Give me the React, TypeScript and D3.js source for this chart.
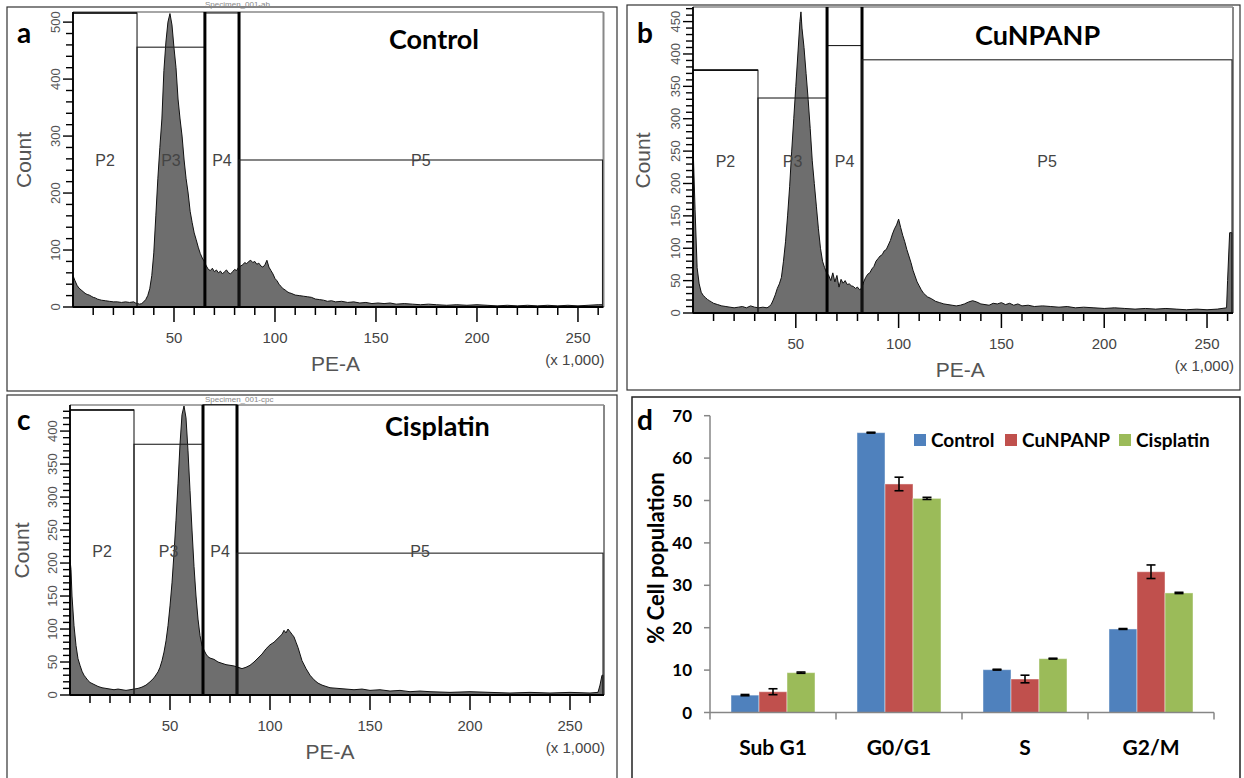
import React from 'react';
import * as d3 from 'd3';

// ---------- DATA ----------
// Flow-cytometry histograms: [PE-A (x 1,000), Count]
const controlHistogram: [number, number][] = [
  [0, 55], [1, 46], [2, 38], [3, 33], [4, 30], [5, 27], [6, 24], [7, 22], [8, 21], [9, 19], [10, 17], [11, 16], [12, 14], [13, 13], [14, 12], [16, 11], [18, 10], [20, 9], [22, 9], [24, 8], [26, 9], [28, 8], [30, 9], [31, 7], [32, 6], [33, 5], [34, 6], [35, 9], [36, 13], [37, 20], [38, 32], [39, 55], [40, 95], [41, 160], [42, 225], [43, 280], [44, 330], [45, 415], [46, 465], [47, 500], [48, 515], [49, 495], [50, 455], [51, 420], [52, 365], [53, 330], [54, 300], [55, 258], [56, 225], [57, 200], [58, 168], [59, 148], [60, 130], [61, 118], [62, 105], [63, 94], [64, 86], [65, 80], [66, 72], [67, 66], [68, 64], [69, 68], [70, 62], [71, 65], [72, 60], [73, 63], [74, 58], [75, 62], [76, 65], [77, 60], [78, 58], [79, 62], [80, 66], [81, 64], [82, 70], [83, 72], [84, 74], [85, 78], [86, 76], [87, 80], [88, 82], [89, 78], [90, 80], [91, 75], [92, 77], [93, 72], [94, 70], [95, 74], [96, 82], [97, 70], [98, 64], [99, 58], [100, 50], [101, 46], [102, 40], [103, 36], [104, 32], [105, 30], [106, 27], [107, 25], [108, 24], [110, 21], [112, 20], [114, 19], [116, 18], [118, 17], [120, 14], [122, 13], [124, 12], [126, 10], [128, 11], [130, 9], [133, 10], [136, 8], [139, 9], [142, 7], [145, 8], [148, 6], [151, 7], [154, 6], [157, 7], [160, 5], [164, 6], [168, 5], [172, 4], [176, 5], [180, 4], [185, 3], [190, 4], [195, 3], [200, 4], [205, 3], [210, 2], [215, 3], [220, 2], [225, 3], [230, 2], [235, 3], [240, 2], [245, 3], [250, 2], [255, 3], [260, 4], [262.1, 4],
];

const cunpanpHistogram: [number, number][] = [
  [0, 262], [1, 160], [2, 70], [3, 45], [4, 32], [5, 27], [6, 24], [7, 21], [8, 19], [9, 17], [10, 15], [12, 13], [14, 11], [16, 10], [18, 9], [20, 8], [22, 9], [24, 10], [26, 8], [28, 11], [30, 9], [32, 8], [34, 9], [36, 8], [37, 10], [38, 13], [39, 20], [40, 28], [41, 38], [42, 45], [43, 55], [44, 80], [45, 110], [46, 150], [47, 195], [48, 250], [49, 300], [50, 350], [51, 400], [52, 450], [52.5, 465], [53, 440], [54, 410], [55, 370], [56, 330], [57, 285], [58, 235], [59, 200], [60, 165], [61, 130], [62, 100], [63, 80], [64, 70], [65, 62], [66, 58], [67, 50], [68, 62], [69, 48], [70, 58], [71, 40], [72, 52], [73, 46], [74, 50], [75, 44], [76, 45], [77, 42], [78, 41], [79, 38], [80, 40], [81, 36], [82, 38], [83, 48], [84, 55], [85, 60], [86, 62], [87, 68], [88, 72], [89, 80], [90, 84], [91, 88], [92, 90], [93, 96], [94, 98], [95, 105], [96, 112], [97, 122], [98, 130], [99, 136], [100, 145], [101, 132], [102, 120], [103, 110], [104, 98], [105, 88], [106, 78], [107, 66], [108, 57], [109, 48], [110, 42], [111, 36], [112, 31], [113, 28], [114, 25], [116, 22], [118, 18], [120, 16], [122, 14], [124, 13], [126, 12], [128, 11], [130, 12], [132, 14], [134, 17], [136, 19], [138, 17], [140, 14], [142, 13], [144, 12], [146, 15], [148, 14], [150, 16], [152, 13], [154, 15], [156, 12], [158, 14], [160, 11], [163, 12], [166, 10], [170, 11], [174, 10], [178, 9], [182, 10], [186, 8], [190, 9], [195, 8], [200, 7], [205, 8], [210, 7], [215, 6], [220, 7], [225, 6], [230, 7], [235, 6], [240, 5], [245, 6], [250, 5], [255, 6], [259.5, 8], [260, 50], [261, 124], [262.1, 124],
];

const cisplatinHistogram: [number, number][] = [
  [0, 205], [0.5, 190], [1, 150], [2, 105], [3, 75], [4, 55], [5, 45], [6, 36], [7, 30], [8, 26], [9, 22], [10, 19], [12, 16], [14, 13], [16, 11], [18, 10], [20, 9], [22, 8], [24, 9], [26, 8], [28, 7], [30, 8], [32, 9], [34, 10], [36, 12], [38, 15], [40, 20], [42, 26], [44, 35], [45, 42], [46, 52], [47, 65], [48, 82], [49, 105], [50, 135], [51, 170], [52, 215], [53, 265], [54, 320], [55, 380], [56, 425], [57, 440], [58, 420], [59, 370], [60, 310], [61, 250], [62, 195], [63, 150], [64, 115], [65, 90], [66, 75], [67, 68], [68, 62], [69, 58], [70, 56], [72, 54], [74, 50], [76, 48], [78, 46], [80, 45], [82, 44], [84, 42], [86, 40], [88, 42], [90, 45], [92, 50], [94, 56], [96, 62], [98, 70], [100, 76], [102, 80], [104, 86], [106, 92], [107, 98], [108, 94], [109, 100], [110, 96], [111, 92], [112, 88], [113, 80], [114, 72], [115, 62], [116, 52], [118, 40], [120, 30], [122, 23], [124, 18], [126, 15], [128, 13], [130, 11], [134, 10], [138, 9], [142, 8], [146, 9], [150, 7], [155, 8], [160, 6], [165, 7], [170, 5], [175, 6], [180, 5], [190, 4], [200, 5], [210, 4], [220, 3], [230, 4], [240, 3], [250, 4], [260, 3], [264, 4], [265, 15], [266, 30], [266.5, 30],
];

// Gates: name, from / to (PE-A x 1,000), top (Count)
const controlGates = [
  { name: 'P2', from: 0, to: 31.7, top: 516 },
  { name: 'P3', from: 31.7, to: 65.3, top: 456 },
  { name: 'P4', from: 65.3, to: 82.2, top: 516 },
  { name: 'P5', from: 82.2, to: 262.144, top: 258 },
];
const cunpanpGates = [
  { name: 'P2', from: 0, to: 31.6, top: 375 },
  { name: 'P3', from: 31.6, to: 65.2, top: 332 },
  { name: 'P4', from: 65.2, to: 82.2, top: 413 },
  { name: 'P5', from: 82.2, to: 262.144, top: 391 },
];
const cisplatinGates = [
  { name: 'P2', from: 0, to: 32, top: 432 },
  { name: 'P3', from: 32, to: 66.5, top: 380 },
  { name: 'P4', from: 66.5, to: 83.5, top: 440 },
  { name: 'P5', from: 83.5, to: 266.5, top: 215 },
];

const peaXTicks = [50, 100, 150, 200, 250];

// Bar chart
const phases = ['Sub G1', 'G0/G1', 'S', 'G2/M'];
const treatments = ['Control', 'CuNPANP', 'Cisplatin'];
const controlPct = [4.1, 66.0, 10.1, 19.7];
const controlErr = [0.15, 0.1, 0.1, 0.1];
const cunpanpPct = [4.9, 53.9, 7.9, 33.2];
const cunpanpErr = [0.7, 1.6, 0.9, 1.6];
const cisplatinPct = [9.4, 50.5, 12.7, 28.2];
const cisplatinErr = [0.15, 0.25, 0.1, 0.15];
const pctTicks = [0, 10, 20, 30, 40, 50, 60, 70];

const seriesColors = ['#4F81BD', '#C0504D', '#9BBB59'];
const CAL = 'Lato, "Open Sans", sans-serif';
const ARIAL = '"Liberation Sans", Arial, sans-serif';

type Gate = { name: string; from: number; to: number; top: number };
type HistCfg = {
  box: [number, number, number, number];
  left: number; right: number; top: number; bottom: number; xMax: number;
  yMax: number; yMajor: number; yMinor: number;
  title: string; titleX: number; titleY: number;
  letter: string; letterX: number; letterY: number;
  countX: number; specimen: string; specimenY: number;
};

function HistPanel({ data, gates, cfg }: { data: [number, number][]; gates: Gate[]; cfg: HistCfg }) {
  const x = d3.scaleLinear().domain([0, cfg.xMax]).range([cfg.left, cfg.right]);
  const y = d3.scaleLinear().domain([0, cfg.yMax]).range([cfg.bottom, cfg.top]);
  const area = d3.area<[number, number]>()
    .x(d => x(Math.min(d[0], cfg.xMax)))
    .y0(y(0))
    .y1(d => y(Math.min(d[1], cfg.yMax)));
  const path = area([[0, 0], ...data, [cfg.xMax, 0]] as [number, number][]) || '';
  const minorX = d3.range(10, cfg.xMax, 10);
  const minorY = d3.range(0, cfg.yMax, cfg.yMinor);
  const majorY = d3.range(0, cfg.yMax, cfg.yMajor);
  const [bx0, by0, bx1, by1] = cfg.box;
  const midY = (cfg.top + cfg.bottom) / 2;
  const gx = (v: number) => x(Math.min(v, cfg.xMax));
  return (
    <g>
      <rect x={bx0} y={by0} width={bx1 - bx0} height={by1 - by0} fill="#fff" stroke="#333" strokeWidth={1.2} />
      {cfg.specimen && (
        <text x={205} y={cfg.specimenY} fontFamily={ARIAL} fontSize={8} fill="#888">{cfg.specimen}</text>
      )}
      {/* plot frame top/right */}
      <line x1={cfg.left} x2={cfg.right + 1} y1={cfg.top - 1} y2={cfg.top - 1} stroke="#888" strokeWidth={1.6} />
      <line x1={cfg.right + 1} x2={cfg.right + 1} y1={cfg.top - 1} y2={cfg.bottom} stroke="#888" strokeWidth={2} />
      {/* histogram */}
      <path d={path} fill="#6e6e6e" stroke="#111" strokeWidth={1} strokeLinejoin="round" />
      {/* gates */}
      {gates.map(g => (
        <g key={g.name}>
          <rect x={gx(g.from)} y={y(g.top)} width={gx(g.to) - gx(g.from)} height={y(0) - y(g.top)} fill="none" stroke="#222" strokeWidth={1.1} />
          {g.name === 'P2' && <line x1={gx(g.from)} x2={gx(g.to)} y1={y(g.top)} y2={y(g.top)} stroke="#111" strokeWidth={1.6} />}
          {g.name === 'P4' && (
            <>
              <line x1={gx(g.from)} x2={gx(g.from)} y1={cfg.top - 1} y2={y(0)} stroke="#000" strokeWidth={3} />
              <line x1={gx(g.to)} x2={gx(g.to)} y1={cfg.top - 1} y2={y(0)} stroke="#000" strokeWidth={3} />
            </>
          )}
          <text x={(gx(g.from) + gx(g.to)) / 2} y={midY + 6} textAnchor="middle" fontFamily={ARIAL} fontSize={16} fill="#444">{g.name}</text>
        </g>
      ))}
      {/* axes */}
      <line x1={cfg.left} x2={cfg.right + 1} y1={cfg.bottom} y2={cfg.bottom} stroke="#000" strokeWidth={1.8} />
      <line x1={cfg.left} x2={cfg.left} y1={cfg.top - 1} y2={cfg.bottom} stroke="#000" strokeWidth={1.8} />
      {minorX.map(v => (
        <line key={'mx' + v} x1={x(v)} x2={x(v)} y1={cfg.bottom} y2={cfg.bottom + (v % 50 === 0 ? 15 : 8)} stroke="#000" strokeWidth={1.5} />
      ))}
      {peaXTicks.map(v => (
        <text key={'tx' + v} x={x(v)} y={cfg.bottom + 36} textAnchor="middle" fontFamily={ARIAL} fontSize={15} fill="#444">{v}</text>
      ))}
      {minorY.map(v => (
        <line key={'my' + v} x1={cfg.left - (v % cfg.yMajor === 0 ? 10 : 7)} x2={cfg.left} y1={y(v)} y2={y(v)} stroke="#000" strokeWidth={1.4} />
      ))}
      {majorY.map(v => (
        <text key={'ty' + v} transform={`translate(${cfg.left - 13},${y(v)}) rotate(-90)`} textAnchor="middle" fontFamily={ARIAL} fontSize={13} fill="#555">{v}</text>
      ))}
      <text transform={`translate(${cfg.countX},${midY}) rotate(-90)`} textAnchor="middle" fontFamily={ARIAL} fontSize={21} fill="#555">Count</text>
      <text x={x(130)} y={cfg.bottom + 64} textAnchor="middle" fontFamily={ARIAL} fontSize={21} fill="#555">PE-A</text>
      <text x={cfg.right + 2} y={cfg.bottom + 58} textAnchor="end" fontFamily={ARIAL} fontSize={15} fill="#444">(x 1,000)</text>
      <text x={cfg.titleX} y={cfg.titleY} fontFamily={CAL} fontWeight={700} fontSize={27} fill="#000">{cfg.title}</text>
      <text x={cfg.letterX} y={cfg.letterY} fontFamily={CAL} fontWeight={700} fontSize={28} fill="#000">{cfg.letter}</text>
    </g>
  );
}

function BarPanel() {
  const left = 710, right = 1214, base = 712.5, top = 415.7;
  const y = d3.scaleLinear().domain([0, 70]).range([base, top]);
  const x0 = d3.scaleBand<string>().domain(phases).range([left, right]);
  const x1 = d3.scaleBand<string>().domain(treatments).range([x0.bandwidth() / 6, x0.bandwidth() * 5 / 6]);
  const values = [controlPct, cunpanpPct, cisplatinPct];
  const errs = [controlErr, cunpanpErr, cisplatinErr];
  const legendX = [914, 1005, 1119];
  return (
    <g>
      <rect x={632} y={397} width={608} height={390} fill="#fff" stroke="#222" strokeWidth={1.5} />
      {treatments.map((t, si) => phases.map((p, pi) => {
        const v = values[si][pi];
        const bx = (x0(p) || 0) + (x1(t) || 0);
        return (
          <rect key={t + p} x={bx} y={y(v)} width={x1.bandwidth()} height={y(0) - y(v)} fill={seriesColors[si]} stroke="rgba(255,255,255,0.45)" strokeWidth={1} />
        );
      }))}
      {treatments.map((t, si) => phases.map((p, pi) => {
        const v = values[si][pi];
        const e = errs[si][pi];
        const cx = (x0(p) || 0) + (x1(t) || 0) + x1.bandwidth() / 2;
        return (
          <g key={'e' + t + p} stroke="#000" strokeWidth={1.6}>
            <line x1={cx} x2={cx} y1={y(v + e)} y2={y(v - e)} />
            <line x1={cx - 4.5} x2={cx + 4.5} y1={y(v + e)} y2={y(v + e)} />
            <line x1={cx - 4.5} x2={cx + 4.5} y1={y(v - e)} y2={y(v - e)} />
          </g>
        );
      }))}
      {/* axes */}
      <line x1={left} x2={left} y1={top} y2={base} stroke="#868686" strokeWidth={1.5} />
      <line x1={left} x2={right} y1={base} y2={base} stroke="#868686" strokeWidth={1.5} />
      {pctTicks.map(v => (
        <g key={'yt' + v}>
          <line x1={left - 6} x2={left} y1={y(v)} y2={y(v)} stroke="#868686" strokeWidth={1.5} />
          <text x={692} y={y(v) + 6} textAnchor="end" fontFamily={CAL} fontWeight={700} fontSize={17} fill="#000">{v}</text>
        </g>
      ))}
      {[...phases.map(p => x0(p) || 0), right].map((tx, i) => (
        <line key={'xt' + i} x1={tx} x2={tx} y1={base} y2={base + 7} stroke="#868686" strokeWidth={1.5} />
      ))}
      {phases.map(p => (
        <text key={'xl' + p} x={(x0(p) || 0) + x0.bandwidth() / 2} y={755} textAnchor="middle" fontFamily={CAL} fontWeight={700} fontSize={21} fill="#000">{p}</text>
      ))}
      <text transform={`translate(664,558) rotate(-90)`} textAnchor="middle" fontFamily={CAL} fontWeight={700} fontSize={22} fill="#000">% Cell population</text>
      {treatments.map((t, si) => (
        <g key={'lg' + t}>
          <rect x={legendX[si]} y={434} width={12} height={12} fill={seriesColors[si]} />
          <text x={legendX[si] + 17} y={447} fontFamily={CAL} fontWeight={700} fontSize={19} fill="#000">{t}</text>
        </g>
      ))}
      <text x={637} y={430} fontFamily={CAL} fontWeight={700} fontSize={28} fill="#000">d</text>
    </g>
  );
}

const cfgA: HistCfg = {
  box: [7, 7, 617, 391], left: 73, right: 602.5, top: 13, bottom: 307, xMax: 262.144,
  yMax: 516, yMajor: 100, yMinor: 20, title: 'Control', titleX: 389, titleY: 49,
  letter: 'a', letterX: 17, letterY: 43, countX: 31, specimen: 'Specimen_001-ab', specimenY: 7,
};
const cfgB: HistCfg = {
  box: [627, 5, 1240, 390], left: 693, right: 1232, top: 8, bottom: 313, xMax: 262.144,
  yMax: 471, yMajor: 50, yMinor: 10, title: 'CuNPANP', titleX: 975, titleY: 45,
  letter: 'b', letterX: 637, letterY: 43, countX: 650, specimen: '', specimenY: 0,
};
const cfgC: HistCfg = {
  box: [7, 395, 617, 790], left: 70, right: 603, top: 406, bottom: 695, xMax: 266.5,
  yMax: 438, yMajor: 50, yMinor: 10, title: 'Cisplatin', titleX: 385, titleY: 436,
  letter: 'c', letterX: 17, letterY: 430, countX: 29, specimen: 'Specimen_001-cpc', specimenY: 402,
};

export default function App() {
  return (
    <svg width={1244} height={778} viewBox="0 0 1244 778" style={{ position: 'absolute', left: 0, top: 0, background: '#fff' }}>
      <rect x={0} y={0} width={1244} height={778} fill="#fff" />
      <HistPanel data={controlHistogram} gates={controlGates} cfg={cfgA} />
      <HistPanel data={cunpanpHistogram} gates={cunpanpGates} cfg={cfgB} />
      <HistPanel data={cisplatinHistogram} gates={cisplatinGates} cfg={cfgC} />
      <BarPanel />
    </svg>
  );
}
